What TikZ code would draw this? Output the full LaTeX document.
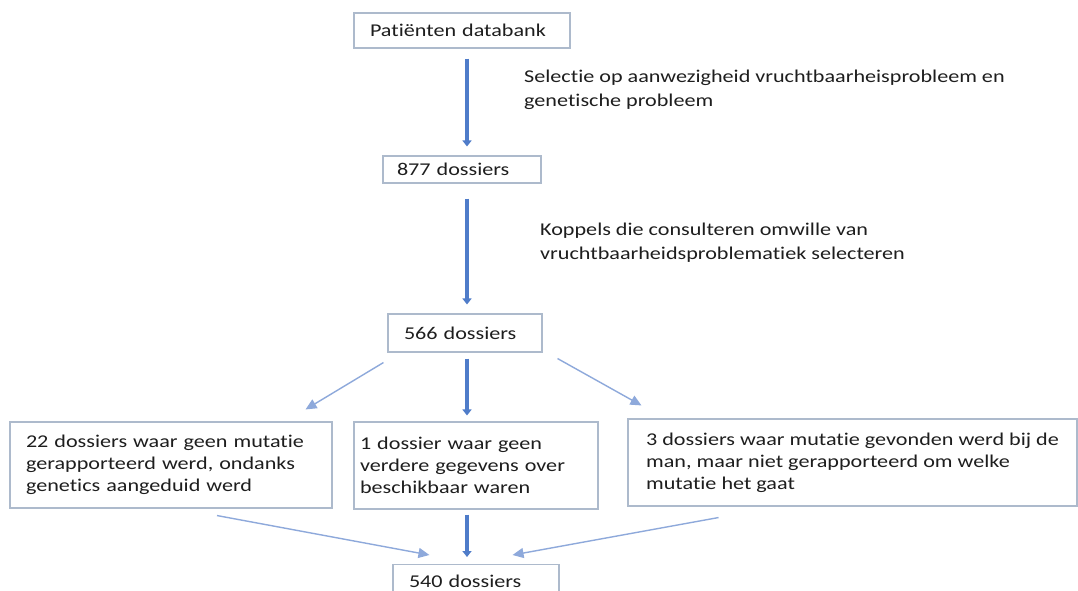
\documentclass[tikz,border=0pt]{standalone}
\usepackage{fontspec}
\setmainfont{Carlito}[FakeStretch=1.23, Ligatures=NoCommon]
\usetikzlibrary{arrows.meta}
\definecolor{thickblue}{HTML}{4F7CC9}
\definecolor{thinblue}{HTML}{8EA9DB}
\definecolor{boxline}{HTML}{ADBACC}
\definecolor{txt}{HTML}{1E1E1E}
\begin{document}
\begin{tikzpicture}[x=1pt,y=1pt,
  every node/.style={font=\fontsize{18}{22}\selectfont, text=txt},
  box/.style={draw=boxline, line width=1.1pt, fill=white, inner ysep=0pt, align=left},
  lbl/.style={inner sep=0pt, anchor=north west, align=left, font=\fontsize{18}{24}\selectfont},
  bigarrow/.style={draw=thickblue, line width=4pt, -{Triangle[width=9pt,length=6pt]}},
  smallarrow/.style={draw=thinblue, line width=1.4pt, -{Triangle[width=10pt,length=11pt]}}]
\useasboundingbox (0,0) rectangle (1078,-591);
\fill[white] (0,0) rectangle (1078,-591);
\coordinate (col) at (467,0);

\node[box, minimum width=216pt, minimum height=35pt, inner xsep=16pt, text width=184pt] (top) at (462,-30.5) {Patiënten databank};
\node[box, minimum width=158pt, minimum height=27pt, inner xsep=14pt, text width=130pt] (n877) at (462,-169.5) {877 dossiers};
\node[box, minimum width=154pt, minimum height=38pt, inner xsep=16pt, text width=122pt] (n566) at (465,-333) {566 dossiers};
\node[box, minimum width=322pt, minimum height=86pt, inner xsep=16pt, text width=290pt] (left) at (171,-465) {22 dossiers waar geen mutatie\\gerapporteerd werd, ondanks\\genetics aangeduid werd};
\node[box, minimum width=244pt, minimum height=87pt, inner xsep=6pt, text width=232pt] (mid) at (476,-465.5) {1 dossier waar geen\\verdere gegevens over\\beschikbaar waren};
\node[box, minimum width=449pt, minimum height=87pt, inner xsep=4pt] (right) at (852.5,-462.5) {3 dossiers waar mutatie gevonden werd bij de\\man, maar niet gerapporteerd om welke\\mutatie het gaat};
\node[box, anchor=north, minimum width=166pt, inner xsep=16pt, text width=134pt, inner ysep=10pt, text depth=20pt] (n540) at (476,-564) {540 dossiers};

\node[lbl] (l1) at (524,-70) {Selectie op aanwezigheid vruchtbaarheisprobleem en\\genetische probleem};
\node[lbl] (l2) at (540,-223) {Koppels die consulteren omwille van\\vruchtbaarheidsproblematiek selecteren};

\draw[bigarrow, shorten <=10pt, shorten >=9pt] (top.south -| col) -- (n877.north -| col);
\draw[bigarrow, shorten <=15pt, shorten >=9pt] (n877.south -| col) -- (n566.north -| col);
\draw[bigarrow, shorten <=6pt, shorten >=6pt] (n566.south -| col) -- (mid.north -| col);
\draw[bigarrow, shorten <=5pt, shorten >=7pt] (mid.south -| col) -- (n540.north -| col);

\draw[smallarrow] ([xshift=-4pt,yshift=-10pt]n566.south west) -- ([xshift=-27pt,yshift=12pt]left.north east);
\draw[smallarrow] ([xshift=15pt,yshift=-6pt]n566.south east) -- ([xshift=14pt,yshift=13pt]right.north west);
\draw[smallarrow] ([xshift=46pt,yshift=-7pt]left.south) -- ([xshift=37pt,yshift=9pt]n540.north west);
\draw[smallarrow] ([xshift=-134pt,yshift=-11pt]right.south) -- ([xshift=-47pt,yshift=9pt]n540.north east);
\end{tikzpicture}
\end{document}
